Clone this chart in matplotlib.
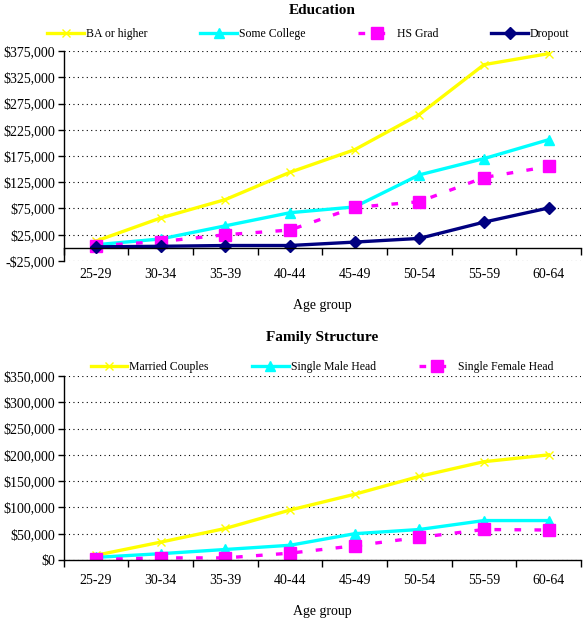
import matplotlib
matplotlib.use("Agg")
import matplotlib.pyplot as plt
from matplotlib.ticker import FuncFormatter, FixedLocator

plt.rcParams["font.family"] = ["Liberation Serif", "DejaVu Serif"]

AGE_GROUPS = ["25-29", "30-34", "35-39", "40-44", "45-49", "50-54", "55-59", "60-64"]

# Education panel
BA_OR_HIGHER = [13000, 57000, 92000, 144000, 187000, 254000, 349000, 370000]
SOME_COLLEGE = [6000, 17000, 42000, 67000, 78000, 139000, 170000, 206000]
HS_GRAD = [4000, 12000, 25000, 34000, 77000, 88000, 134000, 155000]
DROPOUT = [2000, 3000, 4500, 4500, 11000, 18000, 49000, 76000]

# Family structure panel
MARRIED = [9000, 34000, 60000, 95000, 125000, 159000, 187000, 200000]
SINGLE_MALE = [5000, 12000, 20000, 28000, 50000, 58000, 75000, 75000]
SINGLE_FEMALE = [1000, 4000, 4000, 13000, 27000, 43000, 58000, 57000]

EDU_TICKS = list(range(-25000, 375001, 50000))
FAM_TICKS = list(range(0, 350001, 50000))

YELLOW, CYAN, MAGENTA, NAVY = "#FFFF00", "#00FFFF", "#FF00FF", "#000080"
FS = 10          # tick labels / axis titles
LEG_FS = 8.5     # legend entries


def money(v, _pos=None):
    return f"-${abs(v):,.0f}" if v < 0 else f"${v:,.0f}"


def style_axes(ax, ticks, label_pad):
    x = range(len(AGE_GROUPS))
    ax.set_xlim(-0.5, len(AGE_GROUPS) - 0.5)
    ax.set_ylim(ticks[0], ticks[-1])
    ax.yaxis.set_major_locator(FixedLocator(ticks))
    ax.yaxis.set_major_formatter(FuncFormatter(money))
    ax.tick_params(axis="y", direction="out", length=4, width=1, labelsize=FS, pad=2)
    ax.grid(axis="y", color="black", linestyle=(0, (1, 3)), linewidth=0.8)
    ax.set_axisbelow(True)
    for side in ("top", "right"):
        ax.spines[side].set_visible(False)
    ax.spines["left"].set_linewidth(1)
    # boundary ticks on the zero line, category labels below the plot
    ax.xaxis.set_major_locator(FixedLocator([i + 0.5 for i in range(-1, len(AGE_GROUPS))]))
    ax.tick_params(axis="x", direction="out", length=5, width=1, labelbottom=False)
    sec = ax.secondary_xaxis(0)
    sec.set_xticks(list(x))
    sec.set_xticklabels(AGE_GROUPS, fontsize=FS)
    sec.tick_params(length=0, pad=label_pad)
    sec.spines["bottom"].set_visible(False)
    return sec


fig = plt.figure(figsize=(5.85, 6.22), dpi=100)
x = list(range(len(AGE_GROUPS)))

# ---- Education ----
ax1 = fig.add_axes([0.109, 0.5804, 0.884, 0.3376])
ax1.plot(x, BA_OR_HIGHER, color=YELLOW, lw=2.4, marker="x", ms=6, mew=1, label="BA or higher")
ax1.plot(x, SOME_COLLEGE, color=CYAN, lw=2.4, marker="^", ms=7, label="Some College")
ax1.plot(x, HS_GRAD, color=MAGENTA, lw=2.4, dashes=(2, 4), marker="s", ms=8, label="HS Grad")
ax1.plot(x, DROPOUT, color=NAVY, lw=2.4, marker="D", ms=6, label="Dropout")
sec1 = style_axes(ax1, EDU_TICKS, 5)
ax1.spines["bottom"].set_position(("data", 0))
ax1.spines["bottom"].set_linewidth(1)
ax1.text(0.5, 1.195, "Education", transform=ax1.transAxes, ha="center", va="center",
         fontsize=11, fontweight="bold")
sec1.set_xlabel("Age group", fontsize=FS, labelpad=13)
ax1.legend(ncol=4, loc="center", bbox_to_anchor=(0.473, 1.081), frameon=False, fontsize=LEG_FS,
           handlelength=3.1, handletextpad=0.15, columnspacing=4.5, borderaxespad=0)

# ---- Family Structure ----
ax2 = fig.add_axes([0.109, 0.0997, 0.884, 0.2958])
ax2.plot(x, MARRIED, color=YELLOW, lw=2.4, marker="x", ms=6, mew=1, label="Married Couples")
ax2.plot(x, SINGLE_MALE, color=CYAN, lw=2.4, marker="^", ms=7, label="Single Male Head")
ax2.plot(x, SINGLE_FEMALE, color=MAGENTA, lw=2.4, dashes=(2, 4), marker="s", ms=8,
         label="Single Female Head")
sec2 = style_axes(ax2, FAM_TICKS, 10)
ax2.spines["bottom"].set_linewidth(1)
ax2.text(0.5, 1.207, "Family Structure", transform=ax2.transAxes, ha="center", va="center",
         fontsize=11, fontweight="bold")
sec2.set_xlabel("Age group", fontsize=FS, labelpad=13)
ax2.legend(ncol=3, loc="center", bbox_to_anchor=(0.499, 1.049), frameon=False, fontsize=LEG_FS,
           handlelength=3.1, handletextpad=0.15, columnspacing=3.7, borderaxespad=0)

fig.savefig("out.png", dpi=100)
